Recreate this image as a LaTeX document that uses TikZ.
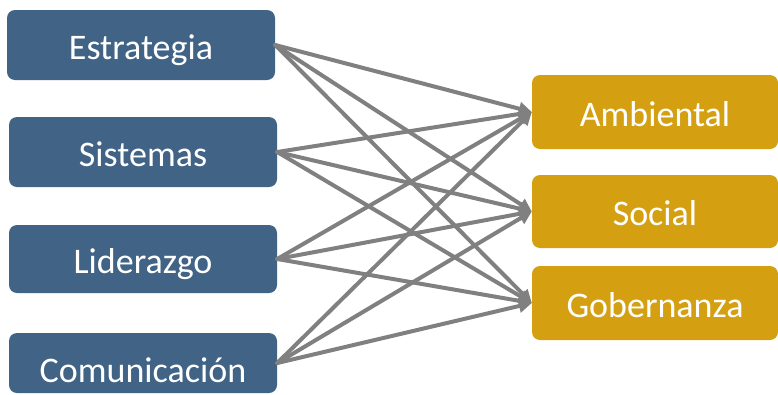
\documentclass[tikz,border=0pt]{standalone}
\usepackage{fontspec}
\setmainfont{Carlito}
\usepackage{xcolor}
\usetikzlibrary{arrows.meta}
\definecolor{ColPilar}{RGB}{64,99,134}
\definecolor{ColEsg}{RGB}{212,160,18}
\definecolor{ColLink}{RGB}{128,128,128}

\begin{document}
\begin{tikzpicture}[
  x=1pt, y=-1pt,
  >={Triangle[length=13pt,width=13pt]},
  line cap=round,
  line join=round,
  every node/.style={font=\fontsize{36}{40}\selectfont, text=white, text height=28pt, text depth=0pt},
  pilar/.style={fill=ColPilar, rounded corners=8pt, minimum width=268pt, minimum height=70pt, inner sep=0pt},
  esg/.style={fill=ColEsg, rounded corners=8pt, minimum width=246pt, minimum height=74pt, inner sep=0pt},
  link/.style={->, line width=4pt, ColLink}
]
  \useasboundingbox (0,0) rectangle (778,394);

  % Left column
  \node[pilar] (estr) at (141,45)  {Estrategia};
  \node[pilar] (sist) at (143,152) {Sistemas};
  \node[pilar, minimum height=68pt] (lid) at (143,259) {Liderazgo};
  \node[pilar, minimum height=60pt] (com) at (143,363) {};
  \node (comtxt) at (143,368) {Comunicación};

  % Right column
  \node[esg] (amb) at (655,112) {Ambiental};
  \node[esg, minimum height=73pt] (soc) at (655,211.5) {Social};
  \node[esg] (gob) at (655,303) {Gobernanza};

  % Every pillar points to every dimension
  \foreach \src in {estr, sist, lid, com}{
    \foreach \dst in {amb, soc, gob}{
      \draw[link] (\src.east) -- (\dst.west);
    }
  }
\end{tikzpicture}
\end{document}
